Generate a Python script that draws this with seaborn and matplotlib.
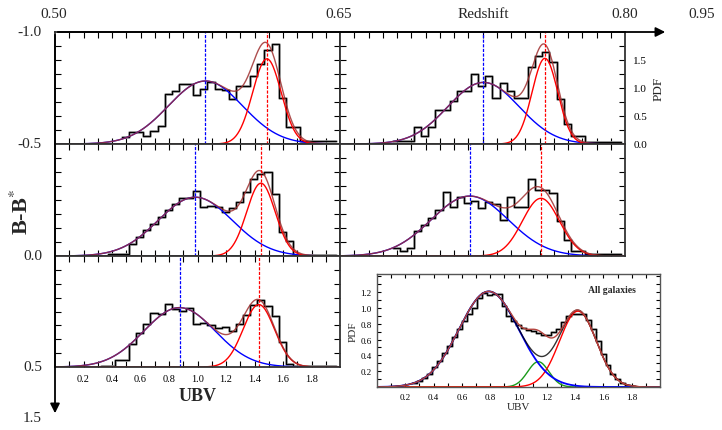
#Description: colour distribution (UBV) of galaxies in redshift bins, with two-gaussian fits

#Import the libraries
import numpy as np
import pandas as pd
import matplotlib
matplotlib.use('Agg')
import matplotlib.pyplot as plt
import seaborn as sns
from matplotlib.patches import FancyArrowPatch

sns.set_theme(style='ticks')
plt.rcParams['font.family'] = ['Liberation Serif', 'DejaVu Serif']
plt.rcParams['mathtext.fontset'] = 'stix'

#Histogram heights (PDF) per panel, bins of 0.05 in UBV starting at *_lo
bin_w = 0.05
tl_lo = 0.47
tl_hist = [0.12, 0.21, 0.21, 0.14, 0.23, 0.33, 0.90, 0.94, 1.07, 1.07, 0.88, 0.98, 1.11, 0.98, 0.97,
           0.80, 1.03, 1.03, 1.22, 1.43, 1.67, 1.79, 0.83, 0.30, 0.30, 0.06, 0.06, 0.06, 0.06, 0.06]
tr_lo = 0.37
tr_hist = [0.05, 0.05, 0.05, 0.31, 0.15, 0.31, 0.60, 0.60, 0.77, 0.95, 0.95, 1.25, 1.04, 1.22, 0.83, 1.09,
           0.95, 0.83, 0.83, 1.38, 1.57, 1.65, 1.46, 0.80, 0.36, 0.15, 0.15, 0.04, 0.04, 0.04, 0.04, 0.04]
ml_lo = 0.37
ml_hist = [0.04, 0.04, 0.04, 0.22, 0.34, 0.46, 0.57, 0.70, 0.82, 0.92, 1.03, 1.03, 1.16, 0.88, 0.90, 0.88,
           0.79, 0.86, 0.97, 1.15, 1.38, 1.46, 1.50, 1.11, 0.42, 0.27, 0.02, 0.02, 0.02, 0.02, 0.02, 0.02]
mr_lo = 0.37
mr_hist = [0.14, 0.09, 0.15, 0.45, 0.55, 0.67, 0.82, 1.15, 0.88, 1.06, 0.95, 0.99, 0.86, 0.96, 0.92, 0.64,
           1.05, 0.88, 0.88, 1.37, 1.18, 1.18, 1.13, 0.63, 0.28, 0.09, 0.09, 0.03, 0.03, 0.03, 0.03, 0.03]
bl_lo = 0.32
bl_hist = [0.02, 0.02, 0.125, 0.125, 0.42, 0.62, 0.77, 0.98, 0.95, 1.14, 1.04, 1.01, 1.07, 0.77, 0.80, 0.76,
           0.70, 0.72, 0.64, 0.77, 0.93, 1.125, 1.20, 1.10, 0.92, 0.45, 0.05, 0.01, 0.01, 0.01, 0.01, 0.01, 0.01]

#Gaussian fits: (mean, amplitude, sigma)
tl_blue, tl_red = (1.056, 1.125, 0.26), (1.487, 1.52, 0.10)
tr_blue, tr_red = (1.007, 1.10, 0.25), (1.438, 1.53, 0.09)
ml_blue, ml_red = (0.984, 1.05, 0.26), (1.445, 1.30, 0.10)
mr_blue, mr_red = (0.910, 1.07, 0.27), (1.410, 1.03, 0.13)
bl_blue, bl_red = (0.874, 1.07, 0.25), (1.430, 1.125, 0.11)

#All galaxies inset (finer bins)
all_w = 0.035
all_lo = 0.25
all_hist = [0.05, 0.08, 0.12, 0.17, 0.25, 0.33, 0.43, 0.52, 0.63, 0.74, 0.84, 0.92, 1.00, 1.13, 1.19,
            1.16, 1.18, 1.18, 1.03, 0.90, 0.83, 0.78, 0.75, 0.72, 0.71, 0.68, 0.66, 0.66, 0.69, 0.74,
            0.82, 0.90, 0.93, 0.93, 0.92, 0.85, 0.74, 0.58, 0.42, 0.28, 0.17, 0.10, 0.05, 0.03, 0.01]
all_blue, all_green, all_red = (0.79, 1.21, 0.21), (1.14, 0.32, 0.075), (1.42, 0.96, 0.13)

ubv = np.linspace(0, 2, 500)
W, H = 722, 431

def gauss(x, p):
    m, a, s = p
    return a * np.exp(-(x - m) ** 2 / (2 * s ** 2))

def rect(l, t, r, b):
    return [l / W, 1 - b / H, (r - l) / W, (b - t) / H]

def draw_hist(ax, lo, heights, w):
    n = len(heights)
    df = pd.DataFrame({'ubv': lo + w * (np.arange(n) + 0.5), 'pdf': heights})
    rng = (lo, lo + w * n)
    sns.histplot(data=df, x='ubv', weights='pdf', bins=n, binrange=rng, element='step',
                 fill=False, color='0.62', lw=1.9, ax=ax)
    sns.histplot(data=df, x='ubv', weights='pdf', bins=n, binrange=rng, element='step',
                 fill=False, color='black', lw=0.9, ax=ax)

def style_axes(ax, ymax, ystep, ymin_step):
    ax.set_xlim(0, 2.0)
    ax.set_ylim(0, ymax)
    ax.set_xticks(np.arange(0.2, 1.81, 0.2))
    ax.set_xticks(np.arange(0.1, 2.0, 0.1), minor=True)
    ax.set_yticks(np.arange(ystep, ymax, ystep))
    ax.set_yticks(np.arange(ymin_step, ymax, ymin_step), minor=True)
    ax.tick_params(which='both', direction='in', top=True, right=True, length=4, width=0.8,
                   colors='black', labelbottom=False, labelleft=False)
    ax.set_xlabel('')
    ax.set_ylabel('')
    for s in ax.spines.values():
        s.set_color('#333333')
        s.set_linewidth(1.3)

def draw_panel(ax, lo, heights, blue, red):
    draw_hist(ax, lo, heights, bin_w)
    gb = gauss(ubv, blue)
    gr = gauss(ubv, red)
    sns.lineplot(x=ubv, y=gb, color='blue', lw=1.0, ax=ax)
    sns.lineplot(x=ubv, y=gr, color='red', lw=1.0, ax=ax)
    sns.lineplot(x=ubv, y=gb + gr, color='#a03030', lw=1.0, alpha=0.85, ax=ax)
    ax.axvline(blue[0], color='blue', ls=(0, (2.5, 1.2)), lw=0.9)
    ax.axvline(red[0], color='red', ls=(0, (2.5, 1.2)), lw=0.9)
    style_axes(ax, 2.0, 0.5, 0.25)

fig = plt.figure(figsize=(W / 100, H / 100), dpi=100)

ax_tl = fig.add_axes(rect(55, 33, 340, 145))
ax_tr = fig.add_axes(rect(340, 33, 625, 145))
ax_ml = fig.add_axes(rect(55, 145, 340, 257))
ax_mr = fig.add_axes(rect(340, 145, 625, 257))
ax_bl = fig.add_axes(rect(55, 257, 340, 368))
ax_in = fig.add_axes(rect(377, 275, 660, 388))

draw_panel(ax_tl, tl_lo, tl_hist, tl_blue, tl_red)
draw_panel(ax_tr, tr_lo, tr_hist, tr_blue, tr_red)
draw_panel(ax_ml, ml_lo, ml_hist, ml_blue, ml_red)
draw_panel(ax_mr, mr_lo, mr_hist, mr_blue, mr_red)
draw_panel(ax_bl, bl_lo, bl_hist, bl_blue, bl_red)

#PDF scale on the right of the top right panel
ax_tr.set_yticks([0.0, 0.5, 1.0, 1.5])
ax_tr.tick_params(axis='y', labelright=True, labelsize=8, pad=6)
ax_tr.yaxis.set_label_position('right')
ax_tr.set_ylabel('PDF', fontsize=9.5, labelpad=4)

#UBV axis under the bottom left panel
ax_bl.tick_params(axis='x', labelbottom=True, labelsize=7.5, pad=5)
ax_bl.set_xticklabels(['%.1f' % v for v in np.arange(0.2, 1.81, 0.2)])
ax_bl.set_xlabel('UBV', fontsize=13, fontweight='bold', labelpad=3)

#All galaxies inset
draw_hist(ax_in, all_lo, all_hist, all_w)
ib = gauss(ubv, all_blue)
ig = gauss(ubv, all_green)
ir = gauss(ubv, all_red)
sns.lineplot(x=ubv, y=ig, color='#1a9a1a', lw=1.0, ax=ax_in)
sns.lineplot(x=ubv, y=ir, color='red', lw=1.0, ax=ax_in)
sns.lineplot(x=ubv, y=ib, color='blue', lw=1.3, ax=ax_in)
sns.lineplot(x=ubv, y=ib + ir, color='black', lw=1.0, alpha=0.8, ax=ax_in)
sns.lineplot(x=ubv, y=ib + ir + ig, color='#b5443f', lw=1.0, ax=ax_in)
style_axes(ax_in, 1.43, 0.2, 0.1)
ax_in.set_yticks(np.arange(0.2, 1.21, 0.2))
ax_in.set_yticklabels(['%.1f' % v for v in np.arange(0.2, 1.21, 0.2)])
ax_in.set_xticklabels(['%.1f' % v for v in np.arange(0.2, 1.81, 0.2)])
ax_in.tick_params(which='both', length=3, labelbottom=True, labelleft=True, labelsize=6.5, pad=4)
for s in ax_in.spines.values():
    s.set_color('#555555')
    s.set_linewidth(1.0)
ax_in.set_xlabel('UBV', fontsize=8, labelpad=1)
ax_in.set_ylabel('PDF', fontsize=8, labelpad=2)
ax_in.text(0.83, 0.86, 'All galaxies', transform=ax_in.transAxes, fontsize=7,
           fontweight='bold', ha='center', va='center')

#Redshift arrow along the top and B-B* arrow down the left
def fx(px):
    return px / W

def fy(py):
    return 1 - py / H

fig.add_artist(FancyArrowPatch((fx(55), fy(33)), (fx(668), fy(33)), transform=fig.transFigure,
                               arrowstyle='-|>', mutation_scale=14, color='black', lw=1.3))
fig.add_artist(FancyArrowPatch((fx(55), fy(33)), (fx(55), fy(417)), transform=fig.transFigure,
                               arrowstyle='-|>', mutation_scale=14, color='black', lw=1.3))

top_labels = ['0.50', '0.65', '0.80', '0.95']
top_px = [54, 339, 625, 702]
for lab, px in zip(top_labels, top_px):
    fig.text(fx(px), fy(14), lab, fontsize=11, ha='center', va='center')
fig.text(fx(483), fy(15), 'Redshift', fontsize=11, ha='center', va='center')

left_labels = ['-1.0', '-0.5', '0.0', '0.5', '1.5']
left_py = [33, 145, 257, 368, 419]
for lab, py in zip(left_labels, left_py):
    fig.text(fx(42), fy(py), lab, fontsize=11, ha='right', va='center')
fig.text(fx(22), fy(212), r'B-B$^{*}$', fontsize=16, fontweight='bold', rotation=90,
         ha='center', va='center')

plt.savefig('out.png', dpi=100)
